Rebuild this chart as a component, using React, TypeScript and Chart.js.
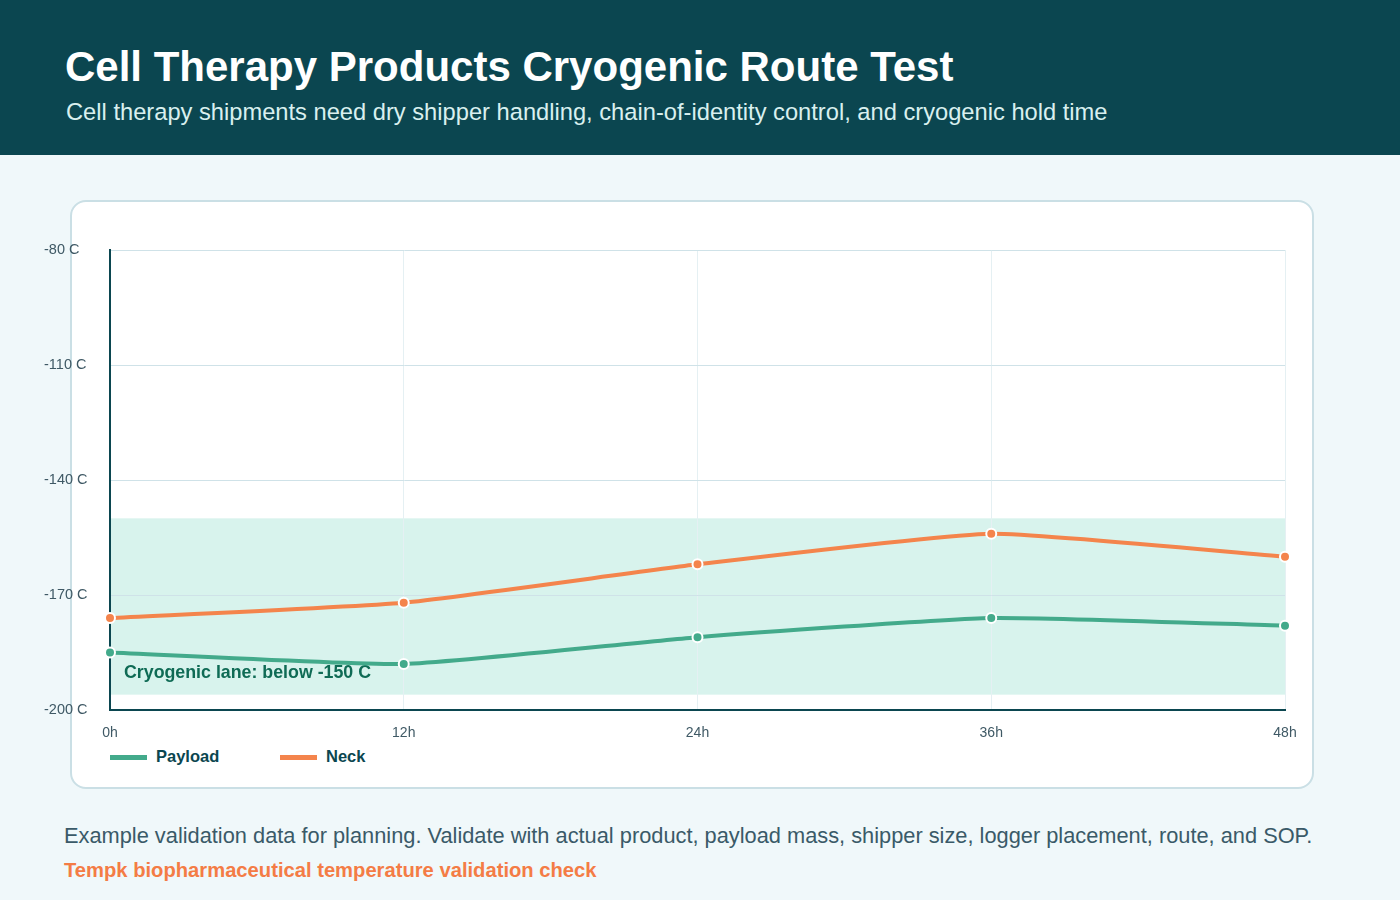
import React, { useEffect, useRef } from "react";
import { Chart, registerables } from "chart.js";

Chart.register(...registerables);

// Sampling points along the route
const hours = ["0h", "12h", "24h", "36h", "48h"];
// Temperatures in degrees C
const payloadTemps = [-185, -188, -181, -176, -178];
const neckTemps = [-176, -172, -162, -154, -160];
// Axis range and the cryogenic lane limits
const yMin = -200;
const yMax = -80;
const yStep = 30;
const laneTop = -150;
const laneBottom = -196;
const laneLabel = "Cryogenic lane: below -150 C";

const FONT = "'Liberation Sans', Arial, Helvetica, sans-serif";
const DARK = "#0b4650";
const GREEN = "#43aa8b";
const ORANGE = "#f4844c";

const lanePlugin = {
  id: "cryoLane",
  beforeDraw(chart: any) {
    const { ctx, chartArea, scales } = chart;
    const y = scales.y;
    const top = y.getPixelForValue(laneTop);
    const bottom = y.getPixelForValue(laneBottom);
    ctx.save();
    ctx.fillStyle = "#d8f3ed";
    ctx.fillRect(chartArea.left, top, chartArea.right - chartArea.left, bottom - top);
    ctx.fillStyle = "#0f6b55";
    ctx.font = `bold 17.8px ${FONT}`;
    ctx.textAlign = "left";
    ctx.textBaseline = "alphabetic";
    ctx.fillText(laneLabel, chartArea.left + 14, bottom - 17);
    ctx.restore();
  },
};

function TempChart() {
  const ref = useRef<HTMLCanvasElement | null>(null);
  useEffect(() => {
    if (!ref.current) return;
    const lineStyle = (color: string) => ({
      borderColor: color,
      backgroundColor: color,
      pointBackgroundColor: color,
      pointBorderColor: "#ffffff",
      borderWidth: 4,
      pointRadius: 5,
      pointBorderWidth: 2,
      tension: 0.15,
      clip: false as any,
    });
    const chart = new Chart(ref.current, {
      type: "line",
      data: {
        labels: hours,
        datasets: [
          { label: "Payload", data: payloadTemps, ...lineStyle(GREEN) },
          { label: "Neck", data: neckTemps, ...lineStyle(ORANGE) },
        ],
      },
      options: {
        animation: false,
        responsive: false,
        maintainAspectRatio: false,
        events: [],
        layout: { padding: { left: 14, top: 20, right: 15, bottom: 0 } },
        plugins: {
          legend: { display: false },
          tooltip: { enabled: false },
          title: { display: false },
        },
        scales: {
          x: {
            grid: { color: "#e5f0f3", lineWidth: 1, drawTicks: false },
            border: { display: true, color: DARK, width: 2 },
            ticks: {
              color: "#3f5965",
              font: { family: FONT, size: 14 },
              padding: 15,
              maxRotation: 0,
            },
            afterFit: (s: any) => {
              s.height = 35;
              s.paddingLeft = 0;
              s.paddingRight = 0;
            },
          },
          y: {
            min: yMin,
            max: yMax,
            grid: { color: "#cfe2e8", lineWidth: 1, drawTicks: false },
            border: { display: true, color: DARK, width: 2 },
            ticks: {
              stepSize: yStep,
              color: "#3f5965",
              font: { family: FONT, size: 14.5 },
              crossAlign: "far",
              callback: (v: any) => `${v} C`,
            },
            afterFit: (s: any) => {
              s.width = 66;
              s.paddingTop = 0;
              s.paddingBottom = 0;
            },
          },
        },
      },
      plugins: [lanePlugin],
    });
    return () => chart.destroy();
  }, []);
  return (
    <canvas
      ref={ref}
      width={1270}
      height={515}
      style={{ position: "absolute", left: 30, top: 230, width: 1270, height: 515 }}
    />
  );
}

function LegendItem({ color, text, left }: { color: string; text: string; left: number }) {
  return (
    <>
      <div style={{ position: "absolute", left, top: 755, width: 37, height: 5, background: color }} />
      <div
        style={{
          position: "absolute",
          left: left + 46,
          top: 748,
          font: `bold 16.5px ${FONT}`,
          lineHeight: "16.5px",
          color: DARK,
          whiteSpace: "nowrap",
        }}
      >
        {text}
      </div>
    </>
  );
}

export default function App() {
  return (
    <div
      style={{
        position: "absolute",
        left: 0,
        top: 0,
        width: 1400,
        height: 900,
        background: "#f0f8fa",
        fontFamily: FONT,
        overflow: "hidden",
      }}
    >
      <div style={{ position: "absolute", left: 0, top: 0, width: 1400, height: 155, background: DARK }} />
      <div
        style={{
          position: "absolute",
          left: 65,
          top: 46,
          font: `bold 42px ${FONT}`,
          lineHeight: "42px",
          color: "#ffffff",
          whiteSpace: "nowrap",
        }}
      >
        Cell Therapy Products Cryogenic Route Test
      </div>
      <div
        style={{
          position: "absolute",
          left: 66,
          top: 100,
          font: `23.7px ${FONT}`,
          lineHeight: "24px",
          color: "#d9f0ef",
          whiteSpace: "nowrap",
        }}
      >
        Cell therapy shipments need dry shipper handling, chain-of-identity control, and cryogenic hold time
      </div>

      <div
        style={{
          position: "absolute",
          left: 70,
          top: 200,
          width: 1240,
          height: 585,
          background: "#ffffff",
          border: "2px solid #cadfe5",
          borderRadius: 16,
        }}
      />
      <TempChart />
      <LegendItem color={GREEN} text="Payload" left={110} />
      <LegendItem color={ORANGE} text="Neck" left={280} />

      <div
        style={{
          position: "absolute",
          left: 64,
          top: 825,
          font: `21.8px ${FONT}`,
          lineHeight: "22px",
          color: "#3a5a68",
          whiteSpace: "nowrap",
        }}
      >
        Example validation data for planning. Validate with actual product, payload mass, shipper size, logger placement, route, and SOP.
      </div>
      <div
        style={{
          position: "absolute",
          left: 64,
          top: 860,
          font: `bold 20.2px ${FONT}`,
          lineHeight: "20px",
          color: "#f47c45",
          whiteSpace: "nowrap",
        }}
      >
        Tempk biopharmaceutical temperature validation check
      </div>
    </div>
  );
}
